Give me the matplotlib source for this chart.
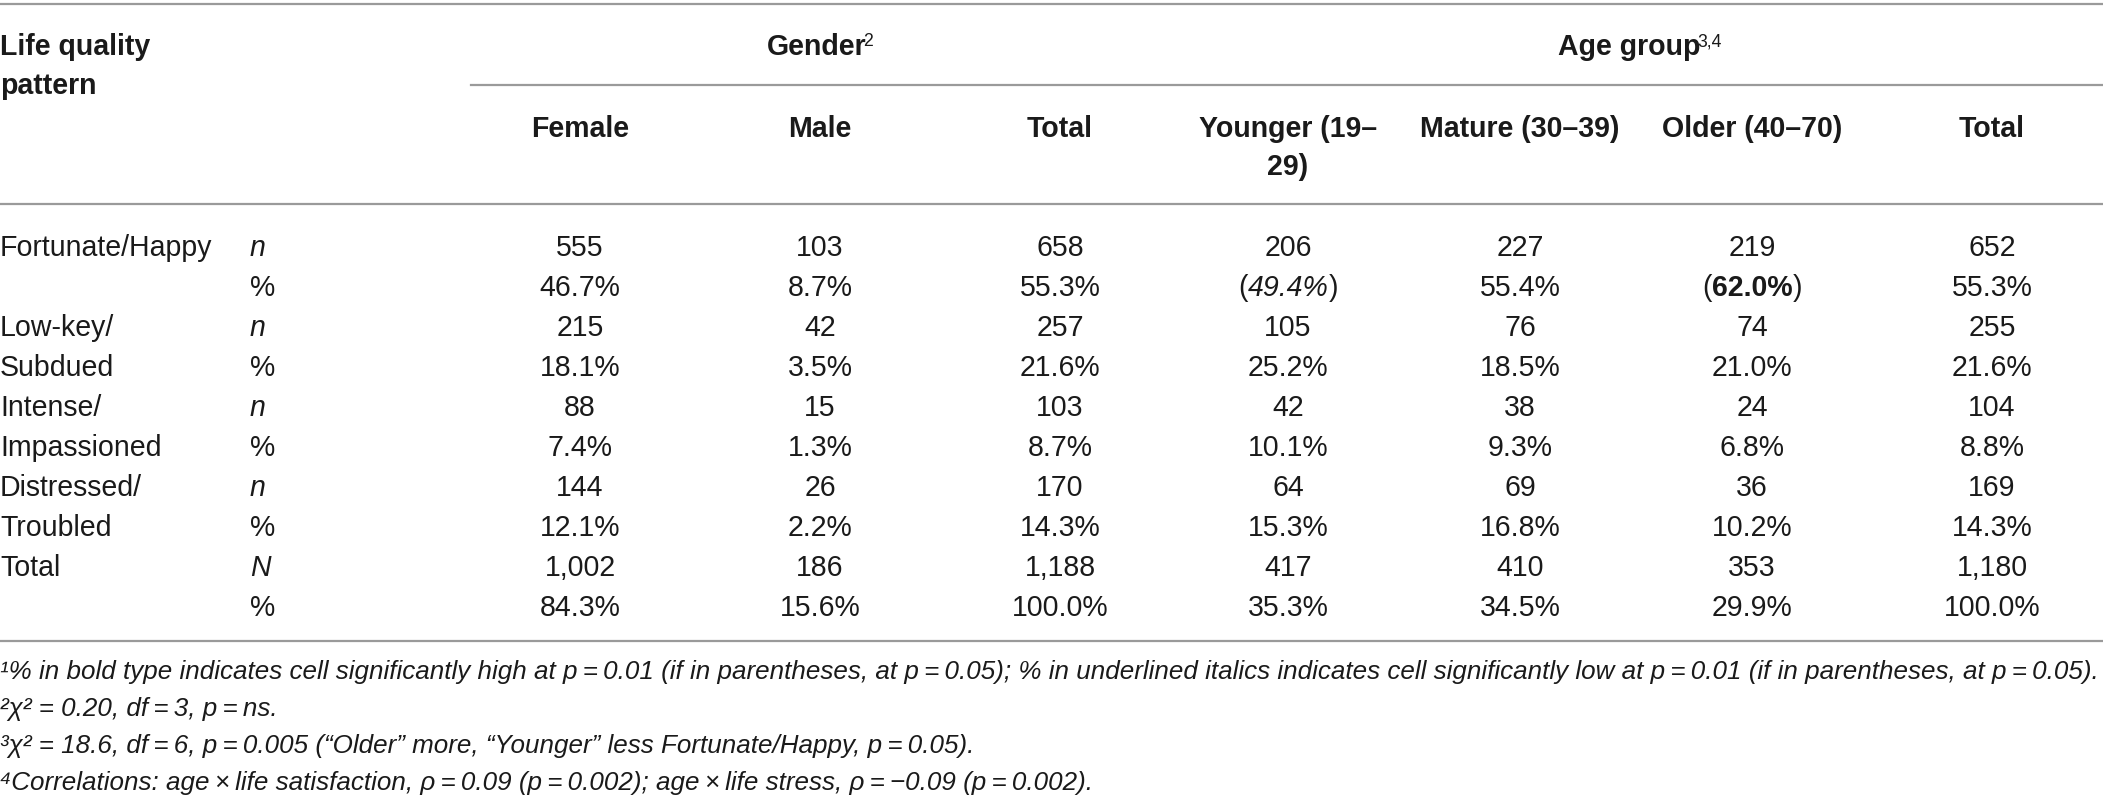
import matplotlib
matplotlib.use("Agg")
import matplotlib.pyplot as plt

plt.rcParams["font.family"] = ["Liberation Sans", "DejaVu Sans"]

# table values
row_labels = ["Fortunate/Happy", "", "Low-key/", "Subdued", "Intense/",
              "Impassioned", "Distressed/", "Troubled", "Total", ""]
stat_labels = ["n", "%", "n", "%", "n", "%", "n", "%", "N", "%"]

col_headers = ["Female", "Male", "Total", "Younger (19–\n29)",
               "Mature (30–39)", "Older (40–70)", "Total"]
group_headers = [("Gender", "2"), ("Age group", "3,4")]

female_n = [555, 215, 88, 144, 1002]
female_pct = [46.7, 18.1, 7.4, 12.1, 84.3]
male_n = [103, 42, 15, 26, 186]
male_pct = [8.7, 3.5, 1.3, 2.2, 15.6]
gender_total_n = [658, 257, 103, 170, 1188]
gender_total_pct = [55.3, 21.6, 8.7, 14.3, 100.0]
younger_n = [206, 105, 42, 64, 417]
younger_pct = [49.4, 25.2, 10.1, 15.3, 35.3]
mature_n = [227, 76, 38, 69, 410]
mature_pct = [55.4, 18.5, 9.3, 16.8, 34.5]
older_n = [219, 74, 24, 36, 353]
older_pct = [62.0, 21.0, 6.8, 10.2, 29.9]
age_total_n = [652, 255, 104, 169, 1180]
age_total_pct = [55.3, 21.6, 8.8, 14.3, 100.0]

# cells flagged in the table: (column, group) -> style
flagged = {(3, 0): "low05", (5, 0): "high05"}

ts = "\u2009"
footnotes = [
    f"¹% in bold type indicates cell significantly high at p{ts}={ts}0.01 (if in parentheses, at p{ts}={ts}0.05); "
    f"% in underlined italics indicates cell significantly low at p{ts}={ts}0.01 (if in parentheses, at p{ts}={ts}0.05).",
    f"²χ² = 0.20, df{ts}={ts}3, p{ts}={ts}ns.",
    f"³χ² = 18.6, df{ts}={ts}6, p{ts}={ts}0.005 (“Older” more, “Younger” less Fortunate/Happy, p{ts}={ts}0.05).",
    f"⁴Correlations: age{ts}×{ts}life satisfaction, ρ{ts}={ts}0.09 (p{ts}={ts}0.002); "
    f"age{ts}×{ts}life stress, ρ{ts}={ts}−0.09 (p{ts}={ts}0.002).",
]

W, H = 2103, 811
FS = 28.5 * 0.72
FN = 26.0 * 0.72
INK = "#1a1a1a"
RULE = "#9a9a9a"

col_x = [580, 820, 1060, 1288, 1520, 1752, 1992]
group_x = [820, 1640]
row_y0, row_dy = 246, 40

fig = plt.figure(figsize=(W / 100, H / 100), dpi=100)
ax = fig.add_axes([0, 0, 1, 1])
ax.set_xlim(0, W)
ax.set_ylim(H, 0)
ax.axis("off")
renderer = fig.canvas.get_renderer()


def put(x, y, s, size=FS, ha="center", dy=0, **kw):
    # y is the visual centre of the capitals
    return ax.text(x, y + 0.36 * FS / 0.72 - dy, s, ha=ha, va="baseline",
                   fontsize=size, color=INK, **kw)


def put_pieces(x, y, pieces):
    kerns = [st.pop("kern", 0) for _, st in pieces]
    texts = [put(x, y, s, ha="left", **st) for s, st in pieces]
    widths = [t.get_window_extent(renderer).width for t in texts]
    total = sum(widths) + sum(kerns)
    left = x - total / 2
    for t, w, k in zip(texts, widths, kerns):
        left += k
        t.set_x(left)
        left += w


# rules
ax.plot([0, W], [4, 4], color=RULE, lw=1.6)
ax.plot([471, W], [85, 85], color=RULE, lw=1.6)
ax.plot([0, W], [204, 204], color=RULE, lw=1.6)
ax.plot([0, W], [641, 641], color=RULE, lw=1.6)

# header
put(0, 45, "Life quality", ha="left", fontweight="bold")
put(0, 84, "pattern", ha="left", fontweight="bold")
for x, (name, sup) in zip(group_x, group_headers):
    put_pieces(x, 45, [(name, {"fontweight": "bold"}),
                       (sup, {"size": FS * 0.62, "dy": 9, "kern": -3})])
for x, h in zip(col_x, col_headers):
    for k, part in enumerate(h.split("\n")):
        put(x, 127 + 38 * k, part, fontweight="bold")

# body
for i, (lab, st) in enumerate(zip(row_labels, stat_labels)):
    y = row_y0 + row_dy * i
    if lab:
        put(0, y, lab, ha="left")
    put(250, y, st, ha="left", style="italic" if st != "%" else "normal")

columns = [
    (female_n, female_pct), (male_n, male_pct),
    (gender_total_n, gender_total_pct), (younger_n, younger_pct),
    (mature_n, mature_pct), (older_n, older_pct),
    (age_total_n, age_total_pct),
]
for c, (ns, pcts) in enumerate(columns):
    x = col_x[c]
    for g, (n, p) in enumerate(zip(ns, pcts)):
        y_n = row_y0 + row_dy * (2 * g)
        y_p = y_n + row_dy
        put(x, y_n, f"{n:,}")
        ptxt = f"{p:.1f}%"
        flag = flagged.get((c, g))
        if flag == "high05":
            put_pieces(x, y_p, [("(", {}), (ptxt, {"fontweight": "bold"}), (")", {})])
        elif flag == "low05":
            put_pieces(x, y_p, [("(", {}), (ptxt, {"style": "italic"}), (")", {})])
        else:
            put(x, y_p, ptxt)

# footnotes
for k, note in enumerate(footnotes):
    put(0, 669 + 37 * k, note, size=FN, ha="left", style="italic")

fig.savefig("out.png", dpi=100)
